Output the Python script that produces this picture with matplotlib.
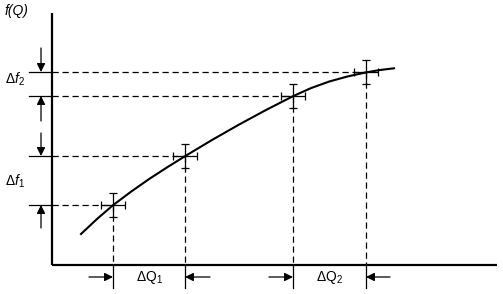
import matplotlib.pyplot as plt

plt.rcParams['font.family'] = ['Liberation Sans', 'DejaVu Sans']
plt.rcParams['mathtext.fontset'] = 'custom'
plt.rcParams['mathtext.rm'] = 'Liberation Sans'
plt.rcParams['mathtext.it'] = 'Liberation Sans:italic'

# measured points (pixel-space coordinates, y downwards)
point_x = [113, 185, 293, 366]
point_y = [205, 156, 96, 72]
err_x = 12
err_y = 12

# curve
curve_x = [81, 97, 113, 131, 149, 167, 185, 212, 239, 266, 293,
           311, 329, 347, 366, 380, 394]
curve_y = [234, 219, 205.2, 191.7, 179.1, 167.4, 156.2, 140, 124.6, 110, 96.2,
           88.1, 81.6, 76.6, 72.4, 70, 68.3]

origin = (52, 265)
axis_top = 13
axis_right = 497

fig = plt.figure(figsize=(5.03, 2.94), dpi=100)
ax = fig.add_axes([0, 0, 1, 1])
ax.set_xlim(0, 503)
ax.set_ylim(294, 0)
ax.axis('off')

# axes
ax.plot([origin[0], origin[0]], [axis_top, origin[1]], color='black', lw=1.6, solid_capstyle='butt')
ax.plot([origin[0], axis_right], [origin[1], origin[1]], color='black', lw=1.6, solid_capstyle='butt')

# curve
ax.plot(curve_x, curve_y, color='black', lw=1.5)

# guide lines
for px, py in zip(point_x, point_y):
    ax.plot([origin[0], px], [py, py], color='black', lw=0.9, ls=(0, (5, 3)))
    ax.plot([px, px], [py, origin[1]], color='black', lw=0.9, ls=(0, (5, 3)))
    ax.plot([29, origin[0]], [py, py], color='black', lw=0.9)
    ax.plot([px, px], [origin[1], 288], color='black', lw=0.9)

ax.errorbar(point_x, point_y, xerr=err_x, yerr=err_y, fmt='none',
            ecolor='black', elinewidth=0.9, capsize=3, capthick=0.9)

def arrow(tail, tip):
    ax.annotate('', xy=tip, xytext=tail,
                arrowprops=dict(arrowstyle='-|>,head_length=0.5,head_width=0.25',
                                color='black', lw=0.9, mutation_scale=10,
                                shrinkA=0, shrinkB=0))

arrow((41, 48), (41, point_y[3]))
arrow((41, 121), (41, point_y[2]))
arrow((41, 133), (41, point_y[1]))
arrow((41, 228), (41, point_y[0]))
arrow((89, 277), (point_x[0], 277))
arrow((210, 277), (point_x[1], 277))
arrow((269, 277), (point_x[2], 277))
arrow((390, 277), (point_x[3], 277))

ax.text(5, 11, 'f(Q)', fontsize=10, style='italic', va='center', ha='left')
ax.text(5, 79, r'$\Delta f_2$', fontsize=10, va='center', ha='left')
ax.text(5, 181, r'$\Delta f_1$', fontsize=10, va='center', ha='left')
ax.text(150, 278, r'$\Delta \mathrm{Q}_1$', fontsize=10, va='center', ha='center')
ax.text(330, 278, r'$\Delta \mathrm{Q}_2$', fontsize=10, va='center', ha='center')

fig.savefig('out.png', dpi=100)
